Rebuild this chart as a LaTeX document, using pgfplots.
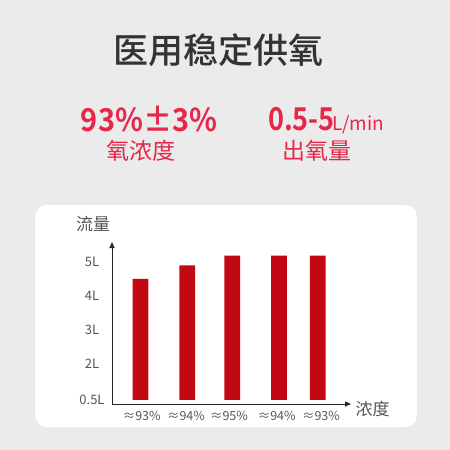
\documentclass[border=0pt]{standalone}
\usepackage{fontspec}
\setmainfont{Noto Sans CJK SC}[BoldFont={Noto Sans CJK SC Bold}]
\newfontfamily\cjkmed{Noto Sans CJK SC Medium}
\usepackage{graphicx}
\usepackage{pgfplots}
\pgfplotsset{compat=1.18}
\usetikzlibrary{arrows.meta}

\definecolor{bg}{HTML}{EBEBEB}
\definecolor{titlegray}{HTML}{333333}
\definecolor{pinkred}{HTML}{E8264A}
\definecolor{barred}{HTML}{C20812}
\definecolor{labgray}{HTML}{555555}

\begin{document}
\begin{tikzpicture}[x=1pt,y=1pt]
  % page and card
  \fill[bg] (0,0) rectangle (450,-450);
  \path[use as bounding box] (0,0) rectangle (450,-450);
  \fill[white, rounded corners=12pt] (35,-205) rectangle (417,-427);

  % headline
  \node[text=titlegray, inner sep=0] at (218,-50) {\cjkmed\fontsize{35}{40}\selectfont 医用稳定供氧};
  \node[text=pinkred, inner sep=0] at (149,-119) {\scalebox{0.92}[1]{\bfseries\fontsize{31.5}{36}\selectfont 93\%±3\%}};
  \node[text=pinkred, inner sep=0] at (141,-151) {\fontsize{23}{26}\selectfont 氧浓度};
  \node[text=pinkred, inner sep=0, anchor=base west] at (268,-130.5) {\scalebox{0.86}[1]{\bfseries\fontsize{31.5}{36}\selectfont 0.5-5}};
  \node[text=pinkred, inner sep=0, anchor=base west] at (332,-130.5) {\fontsize{19}{22}\selectfont L/min};
  \node[text=pinkred, inner sep=0] at (316.5,-151) {\fontsize{23}{26}\selectfont 出氧量};

  % axis names
  \node[text=labgray, inner sep=0] at (93,-224.5) {\fontsize{17}{20}\selectfont 流量};
  \node[text=labgray, inner sep=0] at (372.5,-409) {\fontsize{17}{20}\selectfont 浓度};

  \begin{axis}[
      at={(112pt,-404pt)}, anchor=south west,
      scale only axis, width=239pt, height=162pt,
      xmin=0, xmax=239, ymin=-0.118, ymax=4.648,
      axis lines=left,
      axis line style={draw=black!85, line width=0.8pt, -{Triangle[length=6pt,width=5pt]}},
      major tick length=0pt,
      xtick={29.7,74,117,164.7,209},
      xticklabels={≈93\%,≈94\%,≈95\%,≈94\%,≈93\%},
      xticklabel style={anchor=center, yshift=-12pt, text=labgray, font=\fontsize{12.5}{14}\selectfont},
      ytick={0,1.06,2.06,3.06,4.06},
      yticklabels={0.5L,2L,3L,4L,5L},
      yticklabel style={anchor=center, xshift=-20pt, text=labgray, font=\fontsize{13}{15}\selectfont},
      y filter/.expression={y-0.94},
      ybar, bar width=15.7pt,
    ]
    \addplot[fill=barred, draw=none] coordinates {
      (28.5,4.5) (75.2,4.9) (120.3,5.19) (167.0,5.19) (205.8,5.19)
    };
  \end{axis}
\end{tikzpicture}
\end{document}
